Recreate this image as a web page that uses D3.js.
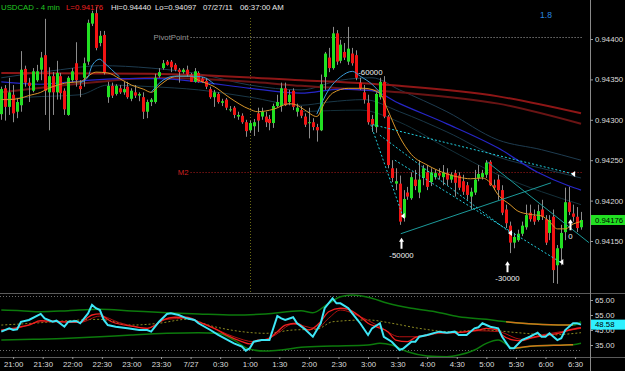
<!DOCTYPE html>
<html>
<head>
<meta charset="utf-8">
<script src="https://cdn.jsdelivr.net/npm/d3@7"></script>
<style>
  body { margin:0; background:#000; }
  svg { display:block; font-family:"Liberation Sans", Arial, sans-serif; }
</style>
</head>
<body>
<svg id="chart"></svg>
<script>
// ---------- data ----------
var symbol = "USDCAD - 4 min";
var stamp = ["07/27/11", "06:37:00 AM"];
var firstBar = "2011-07-26 20:48";
var barMinutes = 4;

var open = [0.94307,0.94339,0.94316,0.94331,0.94310,0.94318,0.94363,0.94346,0.94336,0.94349,
  0.94362,0.94380,0.94334,0.94354,0.94334,0.94354,0.94336,0.94306,0.94349,0.94370,
  0.94342,0.94352,0.94372,0.94419,0.94432,0.94395,0.94405,0.94328,0.94342,0.94332,
  0.94339,0.94334,0.94341,0.94326,0.94334,0.94330,0.94328,0.94310,0.94322,0.94322,
  0.94354,0.94364,0.94372,0.94372,0.94368,0.94362,0.94359,0.94362,0.94356,0.94347,
  0.94358,0.94351,0.94348,0.94338,0.94328,0.94332,0.94321,0.94325,0.94312,0.94315,
  0.94304,0.94305,0.94297,0.94287,0.94292,0.94308,0.94304,0.94304,0.94301,0.94296,
  0.94317,0.94317,0.94339,0.94322,0.94336,0.94310,0.94312,0.94304,0.94296,0.94297,
  0.94291,0.94287,0.94353,0.94377,0.94364,0.94407,0.94373,0.94384,0.94372,0.94382,
  0.94380,0.94346,0.94334,0.94321,0.94301,0.94291,0.94328,0.94347,0.94304,0.94240,
  0.94221,0.94221,0.94179,0.94210,0.94203,0.94226,0.94210,0.94228,0.94235,0.94223,
  0.94229,0.94234,0.94229,0.94234,0.94226,0.94234,0.94231,0.94224,0.94219,0.94205,
  0.94210,0.94228,0.94229,0.94232,0.94248,0.94219,0.94226,0.94213,0.94189,0.94169,
  0.94148,0.94151,0.94159,0.94167,0.94185,0.94181,0.94176,0.94189,0.94177,0.94160,
  0.94180,0.94120,0.94141,0.94161,0.94198,0.94184,0.94180,0.94167];
var high = [0.94341,0.94343,0.94352,0.94343,0.94327,0.94385,0.94367,0.94352,0.94364,0.94368,
  0.94384,0.94425,0.94365,0.94359,0.94373,0.94358,0.94339,0.94354,0.94364,0.94396,
  0.94349,0.94377,0.94424,0.94435,0.94440,0.94410,0.94410,0.94347,0.94346,0.94344,
  0.94343,0.94347,0.94347,0.94339,0.94343,0.94334,0.94334,0.94325,0.94327,0.94357,
  0.94364,0.94374,0.94374,0.94374,0.94370,0.94364,0.94364,0.94367,0.94358,0.94364,
  0.94360,0.94353,0.94352,0.94341,0.94337,0.94334,0.94326,0.94327,0.94317,0.94317,
  0.94310,0.94308,0.94300,0.94299,0.94301,0.94315,0.94315,0.94310,0.94306,0.94320,
  0.94331,0.94346,0.94346,0.94337,0.94339,0.94320,0.94317,0.94308,0.94315,0.94302,
  0.94295,0.94356,0.94384,0.94389,0.94415,0.94411,0.94399,0.94395,0.94415,0.94389,
  0.94386,0.94352,0.94343,0.94331,0.94306,0.94334,0.94352,0.94354,0.94306,0.94250,
  0.94240,0.94231,0.94213,0.94217,0.94235,0.94238,0.94250,0.94244,0.94244,0.94240,
  0.94238,0.94240,0.94244,0.94240,0.94235,0.94238,0.94235,0.94232,0.94223,0.94216,
  0.94238,0.94244,0.94238,0.94250,0.94250,0.94226,0.94232,0.94219,0.94195,0.94174,
  0.94160,0.94164,0.94174,0.94195,0.94195,0.94189,0.94195,0.94201,0.94182,0.94182,
  0.94189,0.94145,0.94170,0.94216,0.94217,0.94195,0.94192,0.94186];
var low = [0.94300,0.94299,0.94306,0.94297,0.94302,0.94310,0.94341,0.94322,0.94334,0.94347,
  0.94349,0.94306,0.94287,0.94306,0.94325,0.94325,0.94306,0.94305,0.94347,0.94341,
  0.94328,0.94341,0.94368,0.94416,0.94386,0.94391,0.94356,0.94321,0.94327,0.94330,
  0.94332,0.94331,0.94326,0.94323,0.94327,0.94323,0.94301,0.94302,0.94317,0.94320,
  0.94352,0.94362,0.94367,0.94359,0.94360,0.94346,0.94357,0.94353,0.94347,0.94346,
  0.94346,0.94346,0.94338,0.94326,0.94316,0.94320,0.94317,0.94312,0.94310,0.94302,
  0.94300,0.94295,0.94279,0.94284,0.94280,0.94285,0.94300,0.94291,0.94287,0.94290,
  0.94315,0.94310,0.94317,0.94318,0.94312,0.94304,0.94302,0.94291,0.94277,0.94287,
  0.94273,0.94286,0.94337,0.94359,0.94362,0.94368,0.94370,0.94374,0.94368,0.94367,
  0.94349,0.94337,0.94320,0.94294,0.94285,0.94284,0.94325,0.94302,0.94240,0.94223,
  0.94213,0.94170,0.94174,0.94201,0.94201,0.94213,0.94203,0.94219,0.94213,0.94218,
  0.94226,0.94226,0.94219,0.94219,0.94222,0.94205,0.94213,0.94207,0.94201,0.94189,
  0.94207,0.94224,0.94226,0.94228,0.94218,0.94213,0.94201,0.94182,0.94166,0.94135,
  0.94141,0.94149,0.94156,0.94164,0.94174,0.94170,0.94174,0.94176,0.94145,0.94151,
  0.94098,0.94097,0.94120,0.94151,0.94182,0.94174,0.94161,0.94164];
var close = [0.94338,0.94316,0.94334,0.94308,0.94322,0.94362,0.94346,0.94342,0.94360,0.94360,
  0.94377,0.94336,0.94354,0.94334,0.94358,0.94333,0.94313,0.94352,0.94360,0.94349,
  0.94338,0.94370,0.94420,0.94432,0.94389,0.94404,0.94358,0.94342,0.94330,0.94342,
  0.94334,0.94338,0.94328,0.94336,0.94330,0.94332,0.94310,0.94322,0.94325,0.94352,
  0.94359,0.94370,0.94368,0.94365,0.94362,0.94359,0.94362,0.94356,0.94347,0.94360,
  0.94347,0.94347,0.94341,0.94328,0.94334,0.94322,0.94323,0.94315,0.94313,0.94306,
  0.94306,0.94297,0.94286,0.94296,0.94297,0.94299,0.94310,0.94297,0.94296,0.94317,
  0.94322,0.94339,0.94318,0.94331,0.94316,0.94315,0.94305,0.94294,0.94297,0.94291,
  0.94287,0.94344,0.94382,0.94364,0.94407,0.94372,0.94393,0.94377,0.94388,0.94370,
  0.94352,0.94339,0.94325,0.94297,0.94294,0.94332,0.94347,0.94304,0.94244,0.94228,
  0.94224,0.94174,0.94202,0.94205,0.94229,0.94218,0.94226,0.94240,0.94217,0.94235,
  0.94234,0.94231,0.94235,0.94226,0.94232,0.94222,0.94216,0.94211,0.94207,0.94211,
  0.94226,0.94233,0.94234,0.94247,0.94219,0.94216,0.94213,0.94185,0.94172,0.94148,
  0.94155,0.94159,0.94169,0.94182,0.94177,0.94174,0.94187,0.94180,0.94148,0.94176,
  0.94114,0.94141,0.94160,0.94198,0.94186,0.94180,0.94166,0.94176];

// moving averages as [bar, price]
var fastMA = [[0,0.94325],[2,0.94325],[5,0.94327],[7,0.94330],[10,0.94334],[12,0.94339],[15,0.94344],[17,0.94346],
  [20,0.94347],[22,0.94354],[24,0.94359],[27,0.94358],[30,0.94351],[33,0.94343],[36,0.94338],[38,0.94334],
  [40,0.94342],[43,0.94352],[45,0.94354],[48,0.94354],[50,0.94349],[54,0.94341],[58,0.94327],[63,0.94313],
  [65,0.94310],[69,0.94313],[73,0.94320],[75,0.94318],[77,0.94312],[80,0.94304],[82,0.94321],[84,0.94333],
  [88,0.94339],[92,0.94339],[96,0.94333],[98,0.94312],[101,0.94279],[104,0.94257],[108,0.94244],[113,0.94233],
  [116,0.94229],[119,0.94227],[122,0.94228],[124,0.94222],[126,0.94207],[129,0.94195],[131,0.94187],[134,0.94183],
  [137,0.94181],[139,0.94174],[141,0.94165],[143,0.94165],[145,0.94171],[147,0.94174]];
var swingMA = [[20,0.94346],[22,0.94353],[23,0.94367],[25,0.94375],[26,0.94371],[28,0.94362],[30,0.94353], null,
  [38,0.94334],[41,0.94349],[44,0.94354],[48,0.94354],[51,0.94353],[54,0.94344], null,
  [80,0.94307],[83,0.94337],[86,0.94353],[89,0.94360],[91,0.94354],[94,0.94344],[96,0.94334]];
var blueMA = [[0,0.94347],[10,0.94344],[20,0.94348],[30,0.94351],[40,0.94351],[50,0.94347],[63,0.94339],[76,0.94333],
  [86,0.94338],[94,0.94336],[101,0.94320],[113,0.94295],[126,0.94265],[136,0.94235],[144,0.94218],[147,0.94213]];
var redMA1 = [[0,0.94358],[38,0.94357],[76,0.94349],[101,0.94342],[126,0.94329],[147,0.94308]];
var redMA2 = [[0,0.94334],[25,0.94347],[38,0.94352],[63,0.94347],[76,0.94342],[101,0.94334],[126,0.94320],[147,0.94295]];
var slateMA1 = [[0,0.94352],[15,0.94362],[25,0.94367],[38,0.94364],[50,0.94357],[63,0.94343],[76,0.94337],[86,0.94349],
  [94,0.94352],[101,0.94337],[113,0.94310],[126,0.94275],[137,0.94263],[147,0.94250]];
var slateMA2 = [[0,0.94325],[7,0.94328],[20,0.94331],[27,0.94343],[38,0.94341],[50,0.94337],[63,0.94328],[76,0.94318],
  [83,0.94322],[92,0.94325],[101,0.94310],[113,0.94285],[126,0.94254],[137,0.94240],[147,0.94228]];
var slateMA3 = [[76,0.94310],[91,0.94312],[101,0.94297],[113,0.94265],[126,0.94232],[137,0.94211],[147,0.94195]];

// levels and drawings
var levelStart = "2011-07-27 00:00";
var levels = [{name:"PivotPoint", price:0.94403}, {name:"M2", price:0.94235}];
var sessionStart = "2011-07-27 01:00";
var trendLines = [[101.3,0.94159,139.4,0.94222],[123.2,0.94248,149,0.94148]];
var channelLines = [[94.2,0.94294,145,0.94233],[93.7,0.94294,101.8,0.94181],[96,0.94281,129.2,0.94160],[99.8,0.94250,141.7,0.94124]];
var stopMarks = [[101.8,0.94181],[129,0.94160],[142,0.94124],[145,0.94233]];
var trades = [{i:101.3, price:0.94154, text:"-50000"}, {i:128.2, price:0.94125, text:"-30000"}, {i:144.2, price:0.94177, text:"0"}];
var positionNote = {i:93.6, price:0.94359, text:"-60000"};
var ratioNote = "1.8";
var priceTicks = [0.9415, 0.9420, 0.9425, 0.9430, 0.9435, 0.9440];

// oscillator, [bar, value]
var rsi = [[0,43.9],[2,46.1],[3,45.0],[4,45.5],[5,50.5],[7,51.7],[10,55.7],[11,52.8],[13,50.5],[14,51.2],[16,47.2],
  [17,50.5],[19,51.0],[20,49.5],[22,56.1],[23,61.7],[24,59.5],[25,58.3],[26,51.7],[27,48.3],[29,47.2],[32,46.1],
  [35,45.0],[37,45.0],[38,43.9],[40,50.5],[42,55.7],[43,56.1],[45,55.0],[47,52.8],[49,51.7],[50,49.5],[53,45.0],
  [55,41.7],[59,36.1],[61,33.9],[62,31.2],[63,32.8],[64,37.2],[66,38.3],[68,38.3],[70,54.3],[71,52.8],[72,51.7],
  [74,53.5],[75,49.5],[77,45.5],[79,40.5],[81,49.5],[82,59.5],[84,66.1],[85,62.8],[86,62.8],[88,59.5],[89,56.1],
  [91,49.5],[93,41.7],[94,46.1],[96,49.5],[97,40.5],[99,37.2],[101,31.7],[102,32.8],[104,37.2],[105,37.2],[106,40.5],
  [108,41.7],[111,43.9],[113,43.2],[115,43.9],[116,41.7],[118,41.7],[120,46.1],[121,46.8],[122,49.5],[124,47.2],
  [126,46.1],[127,40.5],[129,32.8],[130,32.8],[132,38.3],[134,40.5],[136,43.2],[137,40.5],[138,40.5],[139,42.8],
  [141,38.3],[142,39.5],[143,45.0],[145,49.5],[146,49.5],[147,48.58]];
var signal = [[0,45.0],[3,46.1],[5,47.2],[7,48.3],[10,51.2],[15,50.5],[20,50.1],[22,53.5],[23,55.0],[25,55.7],[26,53.9],
  [28,50.5],[34,47.2],[37,46.1],[39,48.3],[41,51.7],[44,53.5],[47,53.5],[50,50.5],[54,46.1],[57,41.7],[61,37.2],
  [63,35.7],[65,38.3],[67,38.3],[70,43.9],[72,48.3],[75,49.5],[78,45.0],[81,50.5],[83,57.2],[86,59.5],[88,58.8],
  [91,53.9],[93,49.5],[95,47.2],[98,43.9],[100,38.3],[103,37.2],[105,40.1],[108,41.7],[111,43.2],[115,43.2],
  [118,43.9],[121,45.0],[123,46.1],[126,45.0],[127,41.7],[130,38.3],[132,37.9],[134,39.5],[137,41.0],[139,41.7],
  [142,43.2],[144,45.0],[147,46.5]];
var signalSlow = [[0,44.5],[5,46.8],[10,50.5],[15,50.5],[20,50.1],[25,54.3],[30,49.9],[37,46.1],[42,52.1],[47,52.8],
  [52,48.3],[59,40.5],[64,37.2],[69,41.0],[74,49.0],[80,46.0],[83,52.8],[86,58.3],[91,53.9],[96,47.2],[101,40.5],
  [106,40.5],[111,42.8],[116,43.2],[121,44.5],[126,43.9],[132,38.8],[137,41.7],[142,43.9],[147,46.1]];
var midLine = [[0,48.3],[8,49.5],[17,51.2],[25,52.1],[33,48.3],[40,49.5],[47,52.1],[54,47.2],[61,43.9],[67,42.8],
  [74,45.0],[80,45.5],[84,50.5],[93,51.7],[99,49.5],[106,46.1],[114,43.9],[122,45.0],[131,43.2],[139,41.7],[147,43.2]];
var upperBand = [[0,58.3],[5,57.9],[10,57.2],[17,57.9],[25,58.8],[33,57.7],[42,56.5],[50,55.7],[59,55.0],[67,55.7],
  [76,57.9],[79,56.5],[83,62.8],[86,67.2],[89,68.3],[93,66.8],[98,62.8],[104,59.5],[110,57.2],[116,53.9],[123,52.1],
  [128,50.5],[135,49.0],[143,48.3],[145,48.3],[147,50.5]];
var lowerBand = [[0,38.3],[8,38.8],[17,39.5],[25,40.5],[33,41.7],[42,42.8],[50,43.2],[55,42.8],[59,38.3],[63,32.1],
  [67,31.0],[71,31.7],[76,33.5],[84,34.3],[93,35.0],[96,36.1],[99,35.0],[103,30.5],[108,27.7],[113,27.2],[116,28.3],
  [120,31.7],[123,36.1],[126,38.3],[130,32.8],[135,34.3],[143,35.0],[145,35.2],[147,36.1]];
var squeeze = [128, 145];
var oscLevels = [68, 32];
var oscTicks = [35, 45, 55, 65];

// ---------- layout ----------
var W = 625, H = 371;
var axisX = 590;
var priceBottom = 293, oscBottom = 357;
var green = "#22e022", red = "#f21414", wick = "#8c8c8c", textCol = "#dcdcdc";
var fs = 7.8;

var svg = d3.select("#chart").attr("width", W).attr("height", H);
svg.append("rect").attr("width", W).attr("height", H).attr("fill", "#000");

var parseT = d3.timeParse("%Y-%m-%d %H:%M");
var t0 = parseT(firstBar);
var n = close.length;
function barTime(i){ return new Date(t0.getTime() + i * barMinutes * 60000); }

var x = d3.scaleTime().domain([barTime(0), barTime(n - 1)]).range([1.3, 581]);
function xi(i){ return x(barTime(i)); }
var y = d3.scaleLinear().domain([0.9415, 0.9440]).range([241, 39]);
var yo = d3.scaleLinear().domain([35, 65]).range([345, 300]);

var defs = svg.append("defs");
defs.append("clipPath").attr("id", "clipPrice").append("rect")
  .attr("x", 0).attr("y", 0).attr("width", axisX).attr("height", priceBottom);
defs.append("clipPath").attr("id", "clipOsc").append("rect")
  .attr("x", 0).attr("y", priceBottom + 1).attr("width", axisX).attr("height", oscBottom - priceBottom - 1);

var price = svg.append("g").attr("clip-path", "url(#clipPrice)");
var osc = svg.append("g").attr("clip-path", "url(#clipOsc)");

// session divider
var xs = Math.round(x(parseT(sessionStart))) + 0.5;
price.append("line").attr("x1", xs).attr("x2", xs).attr("y1", 18).attr("y2", priceBottom)
  .attr("stroke", "#6a6a14").attr("stroke-dasharray", "1,2");

// levels
var levelColor = {"PivotPoint": "#a8a8a8", "M2": "#b01c1c"};
var xl = x(parseT(levelStart));
levels.forEach(function(d){
  var yy = Math.round(y(d.price)) + 0.5;
  price.append("line").attr("x1", xl).attr("x2", axisX - 8).attr("y1", yy).attr("y2", yy)
    .attr("stroke", levelColor[d.name]).attr("stroke-dasharray", "1,2");
  price.append("text").attr("x", xl - 2).attr("y", yy).attr("dy", "0.35em")
    .attr("text-anchor", "end").style("font-size", fs + "px")
    .attr("fill", d.name == "M2" ? "#d02020" : "#9a9a9a").text(d.name);
});

// moving averages
var maLine = d3.line().defined(function(d){ return d; })
  .x(function(d){ return xi(d[0]); })
  .y(function(d){ return y(d[1]); })
  .curve(d3.curveMonotoneX);

function drawMA(data, color, width){
  price.append("path").datum(data).attr("d", maLine)
    .attr("fill", "none").attr("stroke", color).attr("stroke-width", width);
}
drawMA(slateMA3, "#14303a", 1);
drawMA(slateMA2, "#1a3848", 1);
drawMA(slateMA1, "#1e3c50", 1);
drawMA(redMA2, "#6a1414", 2);
drawMA(redMA1, "#8e1616", 2);
drawMA(blueMA, "#2626c8", 1.2);

// candles
var bars = d3.range(n).map(function(i){
  return {i: i, o: open[i], h: high[i], l: low[i], c: close[i]};
});
var bar = price.selectAll("g.bar").data(bars).enter().append("g").attr("class", "bar");
bar.append("line")
  .attr("x1", function(d){ return Math.round(xi(d.i)) + 0.5; })
  .attr("x2", function(d){ return Math.round(xi(d.i)) + 0.5; })
  .attr("y1", function(d){ return y(d.h); })
  .attr("y2", function(d){ return y(d.l); })
  .attr("stroke", wick).attr("stroke-width", 1);
bar.append("rect")
  .attr("x", function(d){ return Math.round(xi(d.i)) - 1; })
  .attr("width", 3)
  .attr("y", function(d){ return y(Math.max(d.o, d.c)); })
  .attr("height", function(d){ return Math.max(1, Math.abs(y(d.o) - y(d.c))); })
  .attr("fill", function(d){ return d.c >= d.o ? green : red; });

drawMA(fastMA, "#d8962a", 1);
drawMA(swingMA, "#3a9ad8", 1);

// drawings
trendLines.forEach(function(d){
  price.append("line").attr("x1", xi(d[0])).attr("y1", y(d[1])).attr("x2", xi(d[2])).attr("y2", y(d[3]))
    .attr("stroke", "#1c9a9a").attr("stroke-width", 1);
});
channelLines.forEach(function(d){
  price.append("line").attr("x1", xi(d[0])).attr("y1", y(d[1])).attr("x2", xi(d[2])).attr("y2", y(d[3]))
    .attr("stroke", "#22d0e0").attr("stroke-width", 1).attr("stroke-dasharray", "2,2");
});
price.selectAll("path.stop").data(stopMarks).enter().append("path")
  .attr("class", "stop")
  .attr("d", function(d){
    var px = xi(d[0]), py = y(d[1]);
    return "M" + (px - 2) + "," + py + "L" + (px + 2) + "," + (py - 3) + "L" + (px + 2) + "," + (py + 3) + "Z";
  })
  .attr("fill", "#fff");

trades.forEach(function(d){
  var px = Math.round(xi(d.i)) + 0.5, py = y(d.price);
  price.append("path")
    .attr("d", "M" + px + "," + py + "L" + (px + 2.5) + "," + (py + 4) + "L" + (px + 1) + "," + (py + 4) +
      "L" + (px + 1) + "," + (py + 11) + "L" + (px - 1) + "," + (py + 11) + "L" + (px - 1) + "," + (py + 4) +
      "L" + (px - 2.5) + "," + (py + 4) + "Z")
    .attr("fill", "#fff");
  price.append("text").attr("x", px).attr("y", py + 20).attr("text-anchor", "middle")
    .style("font-size", fs + "px").attr("fill", "#f0f0f0").text(d.text);
});
price.append("text").attr("x", xi(positionNote.i)).attr("y", y(positionNote.price)).attr("dy", "0.35em")
  .attr("text-anchor", "middle").style("font-size", fs + "px").attr("fill", "#f0f0f0").text(positionNote.text);

svg.append("text").attr("x", 546).attr("y", 18).attr("text-anchor", "middle")
  .style("font-size", "8.5px").attr("fill", "#2a88e0").text(ratioNote);

// title
var fmt5 = d3.format(".5f");
var title = [
  {t: symbol, x: 1, c: "#22c822"},
  {t: "L=" + fmt5(close[n - 1]), x: 66, c: "#f02020"},
  {t: "Hi=" + fmt5(d3.max(high)), x: 111, c: "#e8e8e8"},
  {t: "Lo=" + fmt5(d3.min(low)), x: 155, c: "#e8e8e8"},
  {t: stamp[0], x: 203, c: "#e8e8e8"},
  {t: stamp[1], x: 240, c: "#e8e8e8"}
];
svg.selectAll("text.title").data(title).enter().append("text").attr("class", "title")
  .attr("x", function(d){ return d.x; }).attr("y", 9.5)
  .style("font-size", fs + "px").attr("fill", function(d){ return d.c; })
  .text(function(d){ return d.t; });

// oscillator
oscLevels.forEach(function(v){
  var yy = Math.round(yo(v)) + 0.5;
  osc.append("line").attr("x1", 0).attr("x2", axisX - 8).attr("y1", yy).attr("y2", yy)
    .attr("stroke", "#6c6c6c").attr("stroke-dasharray", "1,2");
});
var oLine = d3.line().x(function(d){ return xi(d[0]); }).y(function(d){ return yo(d[1]); });
var oSmooth = d3.line().x(function(d){ return xi(d[0]); }).y(function(d){ return yo(d[1]); }).curve(d3.curveMonotoneX);
function inSqueeze(d){ return d[0] >= squeeze[0] && d[0] <= squeeze[1]; }

osc.append("path").datum(upperBand).attr("d", oSmooth).attr("fill", "none").attr("stroke", "#0c7a0c").attr("stroke-width", 1.5);
osc.append("path").datum(lowerBand).attr("d", oSmooth).attr("fill", "none").attr("stroke", "#0c7a0c").attr("stroke-width", 1.5);
osc.append("path").datum(upperBand.filter(inSqueeze)).attr("d", oSmooth).attr("fill", "none").attr("stroke", "#d0741a").attr("stroke-width", 1.5);
osc.append("path").datum(lowerBand.filter(inSqueeze)).attr("d", oSmooth).attr("fill", "none").attr("stroke", "#d0741a").attr("stroke-width", 1.5);
osc.append("path").datum(midLine).attr("d", oSmooth).attr("fill", "none").attr("stroke", "#8c8a22")
  .attr("stroke-width", 1).attr("stroke-dasharray", "2,2");
osc.append("path").datum(signalSlow).attr("d", oSmooth).attr("fill", "none").attr("stroke", "#b01010").attr("stroke-width", 1);
osc.append("path").datum(signal).attr("d", oSmooth).attr("fill", "none").attr("stroke", "#f02020").attr("stroke-width", 1.3);
osc.append("path").datum(rsi).attr("d", oLine).attr("fill", "none").attr("stroke", "#3ee6f6").attr("stroke-width", 2);

// frame
svg.append("line").attr("x1", 0).attr("x2", W).attr("y1", priceBottom + 0.5).attr("y2", priceBottom + 0.5).attr("stroke", "#5a5a5a");
svg.append("line").attr("x1", 0).attr("x2", W).attr("y1", oscBottom + 0.5).attr("y2", oscBottom + 0.5).attr("stroke", "#5a5a5a");
svg.append("line").attr("x1", axisX + 0.5).attr("x2", axisX + 0.5).attr("y1", 0).attr("y2", H).attr("stroke", "#8a8a8a");

// axes
function styleAxis(g){
  g.select(".domain").remove();
  g.selectAll(".tick line").attr("stroke", "#9a9a9a");
  g.selectAll(".tick text").attr("fill", textCol).style("font-size", fs + "px")
    .style("font-family", "'Liberation Sans', Arial, sans-serif");
}
svg.append("g").attr("transform", "translate(" + axisX + ",0)")
  .call(d3.axisRight(y).tickValues(priceTicks).tickFormat(fmt5).tickSize(3).tickPadding(2))
  .call(styleAxis);
svg.append("g").attr("transform", "translate(" + axisX + ",0)")
  .call(d3.axisRight(yo).tickValues(oscTicks).tickFormat(d3.format(".2f")).tickSize(3).tickPadding(2))
  .call(styleAxis);

var tf = d3.timeFormat("%-H:%M"), df = d3.timeFormat("%-m/%-d");
svg.append("g").attr("transform", "translate(0," + oscBottom + ")")
  .call(d3.axisBottom(x).ticks(d3.timeMinute.every(30)).tickSize(2).tickPadding(2)
    .tickFormat(function(d){ return (d.getHours() == 0 && d.getMinutes() == 0) ? df(d) : tf(d); }))
  .call(styleAxis);

// last value boxes
function valueBox(yy, txt, bg){
  var g = svg.append("g");
  g.append("rect").attr("x", axisX + 1).attr("y", yy - 5).attr("width", W - axisX - 1).attr("height", 10).attr("fill", bg);
  g.append("text").attr("x", axisX + 5).attr("y", yy).attr("dy", "0.35em")
    .style("font-size", fs + "px").attr("fill", "#000").text(txt);
}
valueBox(y(close[n - 1]), fmt5(close[n - 1]), green);
var lastRsi = rsi[rsi.length - 1][1];
valueBox(yo(lastRsi), d3.format(".2f")(lastRsi), "#2ef0ff");
</script>
</body>
</html>
